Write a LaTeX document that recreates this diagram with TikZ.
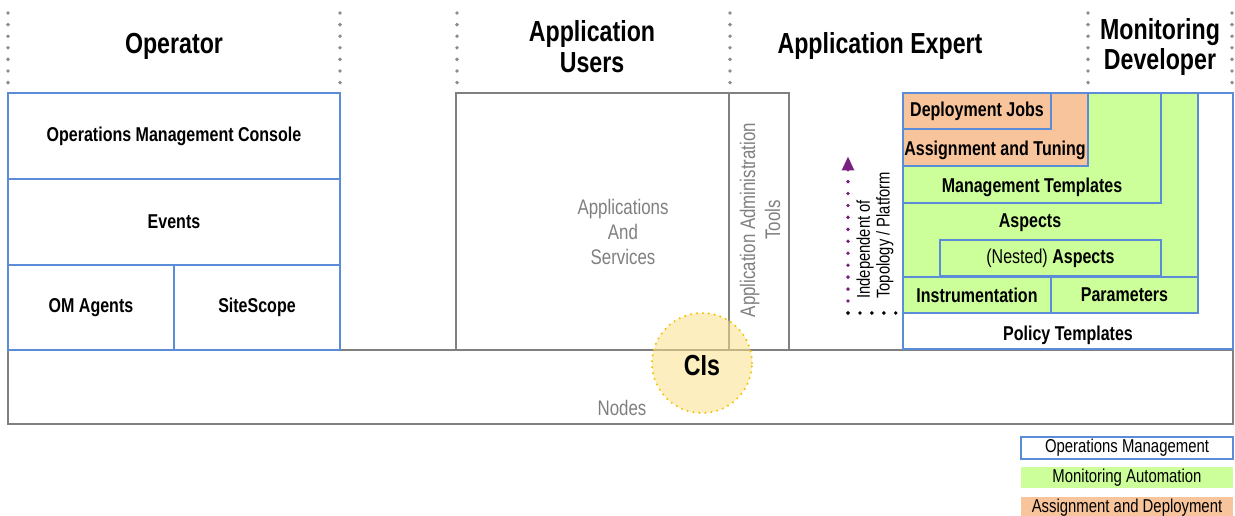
\documentclass[tikz,border=0pt]{standalone}
\usepackage{fontspec}
\setmainfont[FakeStretch=0.8]{Liberation Sans}
\usetikzlibrary{arrows.meta,fit}
\definecolor{omblue}{RGB}{90,140,215}
\definecolor{magreen}{RGB}{204,255,153}
\definecolor{adorange}{RGB}{248,196,156}
\definecolor{greyline}{RGB}{128,128,128}
\definecolor{greytext}{RGB}{127,127,127}
\definecolor{dotgrey}{RGB}{140,140,140}
\definecolor{indpurple}{RGB}{122,32,130}
\definecolor{cifill}{RGB}{251,224,138}
\definecolor{ciborder}{RGB}{245,192,0}
\tikzset{
  boxtext/.style = {font=\bfseries\fontsize{11.4}{13}\selectfont, text centered},
  in_text/.style = {label={[boxtext]center:#1}},
  om_box/.style = {draw=omblue, line width=1.3pt, fill=white, inner sep=0pt},
  ma_box/.style = {om_box, fill=magreen},
  ad_box/.style = {om_box, fill=adorange},
  grey_box/.style = {draw=greyline, line width=1.2pt, inner sep=0pt},
  grey_text/.style = {text=greytext, font=\fontsize{12}{14}\selectfont,
    align=center},
  role/.style = {font=\bfseries\fontsize{16.5}{17.6}\selectfont, align=center},
  col_sep/.style = {dotgrey, line width=2.2pt, line cap=round,
    dash pattern=on 0pt off 6.6pt},
  key_text/.style = {label={[font=\fontsize{10.6}{12}\selectfont]center:#1}},
}

\begin{document}
\begin{tikzpicture}[x=0.02cm, y=-0.02cm]
  \useasboundingbox (0,0) rectangle (1235,516);

  \foreach \x in {8,340,457,730,1088,1232}
    \draw[col_sep] (\x,13) -- (\x,84);

  \node[role] (operator) at (174,46) {Operator};
  \node[role] (appusers) at (592,47) {Application\\Users};
  \node[role] (appexpert) at (880,46) {Application Expert};
  \node[role] (mondev) at (1160,47) {Monitoring\\Developer};

  \node[grey_box, fit={(8,350) (1233,424)}] (nodes) {};
  \node[grey_text] (nodes_lbl) at (622,408) {Nodes};
  \node[grey_box, fit={(456,93) (729,350)}] (apps) {};
  \node[grey_text] (apps_lbl) at (623,232) {Applications\\And\\Services};
  \node[grey_box, fit={(729,93) (789,350)}] (tools) {};
  \node[grey_text, rotate=90, font=\fontsize{12}{14.2}\selectfont]
    (tools_lbl) at (760,220) {Application Administration\\Tools};

  \node[om_box, fit={(8,93) (340,179)},
    in_text=Operations Management Console] (omc) {};
  \node[om_box, fit={(8,179) (340,265)}, in_text=Events] (events) {};
  \node[om_box, fit={(8,265) (174,350)}, in_text=OM Agents] (agents) {};
  \node[om_box, fit={(174,265) (340,350)}, in_text=SiteScope] (sitescope) {};

  \node[circle, minimum size=100*0.02cm, fill=cifill, fill opacity=0.55,
    draw=ciborder, line width=1.3pt, line cap=round,
    dash pattern=on 0pt off 3.4pt] (ci_circle) at (702,363) {};
  \node[font=\bfseries\fontsize{16.5}{18}\selectfont] (cis) at (702,366) {CIs};

  \node[om_box, fit={(903,93) (1233,349)}] (pol_outer) {};
  \node[boxtext] (policy) at (1068,335) {Policy Templates};
  \node[ma_box, fit={(903,93) (1198,313)}] (ma_outer) {};
  \node[ma_box, fit={(903,277) (1051,313)}, in_text=Instrumentation] (instr) {};
  \node[ma_box, fit={(1051,277) (1198,313)}, in_text=Parameters] (params) {};
  \node[boxtext] (aspects) at (1030,223) {Aspects};
  \node[ma_box, fit={(940,240) (1161,276)},
    in_text={{\mdseries (Nested)} Aspects}] (nested) {};
  \node[ma_box, fit={(903,93) (1161,203)}] (mgmt_box) {};
  \node[boxtext] (mgmt) at (1032,187) {Management Templates};
  \node[ad_box, fit={(903,93) (1088,166)}] (assign_box) {};
  \node[boxtext] (assign) at (995,150) {Assignment and Tuning};
  \node[ad_box, fit={(903,93) (1051,129)}, in_text=Deployment Jobs] (jobs) {};

  \coordinate (ind_bot) at (848,313);
  \coordinate (ind_top) at (848,158);
  \coordinate (ind_right) at (898,313);
  \draw[indpurple, line width=2.2pt, line cap=round,
    dash pattern=on 0pt off 6.8pt,
    -{Triangle[width=6.5pt,length=8pt,sep=-1pt]}] (ind_bot) -- (ind_top);
  \draw[black, line width=2.2pt, line cap=round,
    dash pattern=on 0pt off 6.8pt] (ind_bot) -- (ind_right);
  \node[rotate=90, anchor=west, align=left, inner sep=0pt,
    font=\fontsize{10.5}{11.3}\selectfont]
    (indep) at (875,299) {Independent of\\Topology / Platform};

  \node[om_box, fit={(1021,437) (1233,459)},
    key_text=Operations Management] (key_om) {};
  \node[fill=magreen, inner sep=0pt, fit={(1021,467) (1233,488)},
    key_text=Monitoring Automation] (key_ma) {};
  \node[fill=adorange, inner sep=0pt, fit={(1021,497) (1233,518)},
    key_text=Assignment and Deployment] (key_ad) {};
\end{tikzpicture}
\end{document}
